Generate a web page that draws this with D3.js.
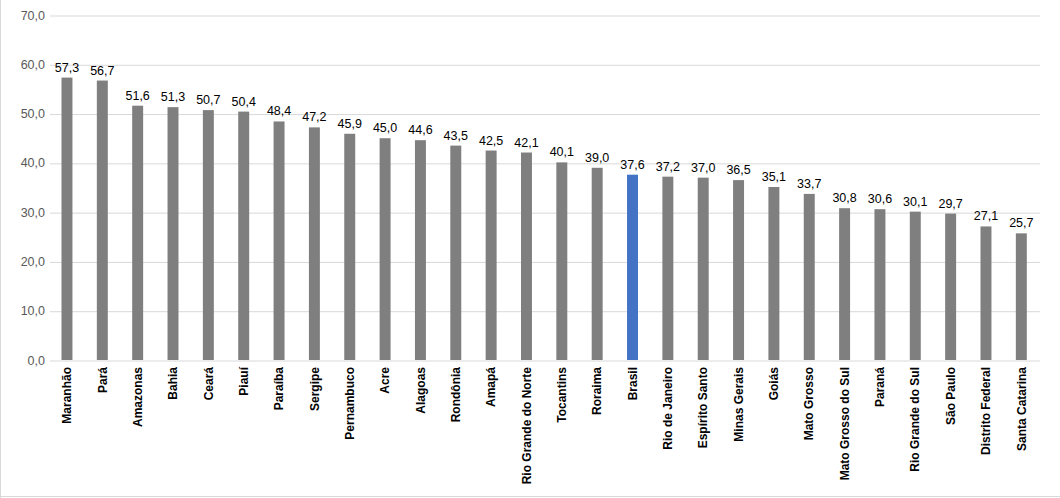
<!DOCTYPE html>
<html>
<head>
<meta charset="utf-8">
<script src="https://cdn.jsdelivr.net/npm/d3@7"></script>
<style>
  html, body { margin: 0; padding: 0; background: #fff; }
  svg { display: block; }
</style>
</head>
<body>
<svg id="chart" width="1060" height="498"></svg>
<script>
const categories = ["Maranhão","Pará","Amazonas","Bahia","Ceará","Piauí","Paraíba","Sergipe","Pernambuco","Acre","Alagoas","Rondônia","Amapá","Rio Grande do Norte","Tocantins","Roraima","Brasil","Rio de Janeiro","Espírito Santo","Minas Gerais","Goiás","Mato Grosso","Mato Grosso do Sul","Paraná","Rio Grande do Sul","São Paulo","Distrito Federal","Santa Catarina"];
const values = [57.3,56.7,51.6,51.3,50.7,50.4,48.4,47.2,45.9,45.0,44.6,43.5,42.5,42.1,40.1,39.0,37.6,37.2,37.0,36.5,35.1,33.7,30.8,30.6,30.1,29.7,27.1,25.7];
const highlight = ["Brasil"];
const yTicks = [0,10,20,30,40,50,60,70];

const W = 1060, H = 498;
const svg = d3.select("#chart");
const font = "'Liberation Sans', Arial, sans-serif";
const fmt = v => d3.format(".1f")(v).replace(".", ",");

const x = d3.scaleBand().domain(categories).range([49.3, 1039]).paddingInner(0.69).paddingOuter(0.345);
const y = d3.scaleLinear().domain([0, 70]).range([360, 15]);

// border
svg.append("line").attr("x1", 0.5).attr("x2", 0.5).attr("y1", 0).attr("y2", H).attr("stroke", "#d9d9d9");
svg.append("line").attr("x1", 0).attr("x2", W).attr("y1", H - 1.5).attr("y2", H - 1.5).attr("stroke", "#d9d9d9");

// gridlines
const yAxis = d3.axisLeft(y).tickValues(yTicks).tickFormat(fmt).tickSize(-(1040 - 50)).tickPadding(6);
const gy = svg.append("g").attr("transform", "translate(50,0)").call(yAxis);
gy.select(".domain").remove();
gy.selectAll(".tick line").attr("stroke", "#d9d9d9").attr("stroke-width", 1)
  .attr("transform", "translate(0,0.5)");
gy.selectAll(".tick text").attr("fill", "#595959").style("font-family", font).style("font-size", "12.5px")
  .attr("x", -5);

// bars
svg.append("g").selectAll("rect").data(categories).join("rect")
  .attr("x", d => x(d))
  .attr("width", x.bandwidth())
  .attr("y", (d, i) => y(values[i]))
  .attr("height", (d, i) => y(0) - y(values[i]))
  .attr("fill", d => highlight.includes(d) ? "#4472c4" : "#7f7f7f");

// value labels
svg.append("g").selectAll("text").data(categories).join("text")
  .attr("x", d => x(d) + x.bandwidth() / 2)
  .attr("y", (d, i) => y(values[i]) - 6)
  .attr("text-anchor", "middle")
  .attr("fill", "#000")
  .style("font-family", font).style("font-size", "12.5px")
  .text((d, i) => fmt(values[i]));

// category labels
const xAxis = d3.axisBottom(x).tickSize(0).tickPadding(0);
const gx = svg.append("g").attr("transform", "translate(0,360)").call(xAxis);
gx.select(".domain").remove();
gx.selectAll(".tick text")
  .attr("transform", "translate(0,7) rotate(-90)")
  .attr("x", 0).attr("y", 0).attr("dy", "0.35em")
  .attr("text-anchor", "end")
  .attr("fill", "#000")
  .style("font-family", font).style("font-size", "12px").style("font-weight", "bold");
</script>
</body>
</html>
